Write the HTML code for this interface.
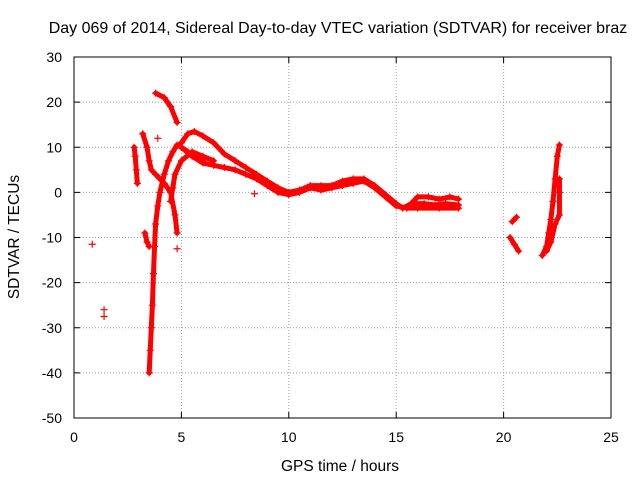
<!DOCTYPE html>
<html><head><meta charset="utf-8"><style>
body{margin:0;background:#fff}
svg{display:block;font-family:"Liberation Sans",sans-serif}
</style></head><body>
<svg id="chart" width="640" height="480">
<text x="338" y="33" font-size="16" text-anchor="middle">Day 069 of 2014, Sidereal Day-to-day VTEC variation (SDTVAR) for receiver braz</text>
<text x="340" y="471" font-size="15.5" text-anchor="middle">GPS time / hours</text>
<text transform="translate(19,237) rotate(-90)" font-size="15.5" text-anchor="middle">SDTVAR / TECUs</text>
<g id="grid"></g>
<g id="ticks"></g>
<g id="marks"></g>
<rect x="74" y="57" width="537" height="361" fill="none" stroke="#000"/>
</svg>
<script>
const xTicks=[0,5,10,15,20,25];
const yTicks=[30,20,10,0,-10,-20,-30,-40,-50];
const trackA0=[[3.8,22],[4.2,21],[4.5,19],[4.8,15.5]];
const trackA=[[5.0,11],[5.3,13],[5.6,13.5],[6,12.5],[6.5,11],[7,8.5],[7.5,7],[8,5.5],[8.5,4],[9,2.5],[9.5,1],[10,0],[10.5,0.5],[11,1.5],[11.5,1.5],[12,1.5],[12.5,2.5],[13,3],[13.5,3],[14,1.5],[14.5,-0.5],[15,-2.5],[15.3,-3.5],[15.7,-2.5],[16,-1],[16.5,-1],[17,-1.5],[17.5,-1],[17.9,-1.5]];
const trackB=[[5,10],[5.5,8],[6,6.5],[6.5,6],[7,5.5],[7.5,5],[8,4],[8.5,3],[9,1.5],[9.5,0],[10,-0.5],[10.5,0],[11,1],[11.5,0.5],[12,1],[12.5,1.5],[13,2],[13.5,2.5],[14,1],[14.5,-1],[15,-3],[15.5,-3.5],[16,-3.5],[17,-3.5],[17.9,-3.5]];
const trackL=[[15.8,-2.5],[16.3,-2.5],[16.8,-2.8],[17.3,-2.5],[17.9,-2.8]];
const trackC=[[3.5,-40],[3.55,-35],[3.6,-30],[3.65,-25],[3.7,-18],[3.75,-12],[3.8,-7],[3.9,-3],[4.0,0],[4.2,4],[4.4,7],[4.6,9],[4.8,10.5],[5.0,10],[5.3,9],[5.6,8],[6,7]];
const trackD=[[3.2,13],[3.4,10],[3.5,7],[3.6,5],[3.8,4],[4.0,3],[4.2,2],[4.5,0],[4.7,-5],[4.8,-9]];
const trackE=[[4.5,-2],[4.6,1],[4.7,4],[5,7],[5.5,9],[6,8],[6.5,7]];
const trackF=[[2.8,10],[2.85,8],[2.9,5],[2.95,2]];
const trackG=[[3.3,-9],[3.4,-11],[3.5,-12]];
const trackH=[[20.3,-10],[20.5,-11.5],[20.7,-13]];
const trackI=[[20.4,-6.5],[20.6,-5.5]];
const trackJ=[[21.8,-14],[22.0,-12],[22.1,-9],[22.2,-6],[22.3,-2],[22.4,3],[22.5,8],[22.6,10.5]];
const trackK=[[22.0,-13],[22.2,-11],[22.4,-7],[22.6,-5],[22.6,0],[22.6,3]];
const isolated=[[0.85,-11.5],[1.4,-26],[1.4,-27.5],[8.4,-0.3],[4.8,-12.5],[3.9,12]];
const tracks=[trackA0,trackA,trackB,trackL,trackC,trackD,trackE,trackF,trackG,trackH,trackI,trackJ,trackK];
const X0=74,X1=611,Y0=418,Y1=57;
const xs=v=>X0+(v-0)/25*(X1-X0);
const ys=v=>Y0-(v+50)/80*(Y0-Y1);
const NS="http://www.w3.org/2000/svg";
function mk(t,a){const e=document.createElementNS(NS,t);for(const k in a)e.setAttribute(k,a[k]);return e;}
const grid=document.getElementById('grid'),ticks=document.getElementById('ticks'),marks=document.getElementById('marks');
xTicks.forEach(v=>{const x=xs(v);
 if(v>0&&v<25){const l=mk('line',{x1:x,x2:x,y1:Y1,y2:Y0,stroke:'#a0a0a0','stroke-dasharray':'1,2'});grid.appendChild(l);}
 ticks.appendChild(mk('line',{x1:x,x2:x,y1:Y0,y2:Y0-6,stroke:'#000'}));
 ticks.appendChild(mk('line',{x1:x,x2:x,y1:Y1,y2:Y1+6,stroke:'#000'}));
 const t=mk('text',{x:x,y:442,'font-size':14,'text-anchor':'middle'});t.textContent=v;
 ticks.appendChild(t);});
yTicks.forEach(v=>{const y=ys(v);
 if(v>-50&&v<30){const l=mk('line',{x1:X0,x2:X1,y1:y,y2:y,stroke:'#a0a0a0','stroke-dasharray':'1,2'});grid.appendChild(l);}
 ticks.appendChild(mk('line',{x1:X0,x2:X0+6,y1:y,y2:y,stroke:'#000'}));
 ticks.appendChild(mk('line',{x1:X1,x2:X1-6,y1:y,y2:y,stroke:'#000'}));
 const t=mk('text',{x:62,y:y+5,'font-size':14,'text-anchor':'end'});t.textContent=v;
 ticks.appendChild(t);});
function plus(p){const x=xs(p[0]),y=ys(p[1]);
 const g=mk('path',{d:`M${x-3.5},${y}h7M${x},${y-3.5}v7`,stroke:'#f00','stroke-width':1.2,fill:'none'});
 marks.appendChild(g);}
tracks.forEach(tr=>{
 const pl=mk('polyline',{points:tr.map(p=>xs(p[0])+','+ys(p[1])).join(' '),stroke:'#f00','stroke-width':5,fill:'none','stroke-linejoin':'round','stroke-linecap':'round'});
 marks.appendChild(pl);
 tr.forEach(plus);});
isolated.forEach(plus);
</script>
</body></html>
